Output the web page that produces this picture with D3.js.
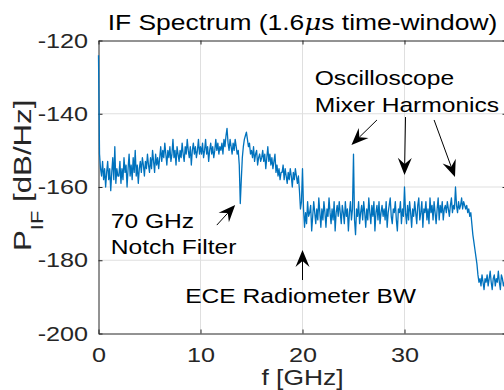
<!DOCTYPE html>
<html>
<head>
<meta charset="utf-8">
<script src="https://cdn.jsdelivr.net/npm/d3@7"></script>
<style>
  body { margin: 0; background: #fff; }
  svg { display: block; }
</style>
</head>
<body>
<div id="chart"></div>
<script>
// spectrum samples, one every 0.1 GHz from 0 to 40 GHz
var fStartGHz = 0, fStepGHz = 0.1;
var powerDb = [
  -124,-151,-155,-157,-153,-158,-155,-160,-156,-153,-158,-155,-161,-156,-152,-158,-149,-159,-155,-157,
  -157,-153,-159,-155,-158,-152,-156,-154,-160,-155,-151,-157,-154,-158,-152,-156,-150,-157,-154,-159,
  -155,-153,-156,-152,-154,-157,-153,-155,-151,-154,-156,-152,-155,-150,-153,-156,-151,-154,-152,-155,
  -152,-149,-153,-150,-152,-148,-151,-154,-150,-152,-149,-153,-151,-147,-152,-150,-154,-149,-151,-153,
  -150,-152,-148,-151,-153,-149,-151,-147,-150,-152,-149,-154,-150,-148,-151,-149,-152,-150,-147,-151,
  -149,-151,-148,-152,-150,-147,-151,-149,-153,-150,-148,-151,-149,-152,-150,-147,-150,-148,-151,-149,
  -150,-148,-151,-147,-149,-146,-144,-148,-150,-147,-149,-151,-148,-150,-147,-149,-151,-150,-154,-164.5,
  -158,-152,-149,-147,-146,-145,-147,-149,-148,-151,-150,-152,-149,-153,-151,-150,-154,-152,-151,-153,
  -152,-150,-153,-151,-155,-152,-149,-153,-151,-154,-152,-155,-153,-151,-156,-154,-157,-155,-158,-156,
  -156,-154,-158,-155,-157,-159,-156,-158,-155,-157,-160,-156,-158,-155,-157,-159,-157,-161,-166,-164,
  -155,-166,-171,-167,-170,-164,-168,-167,-165,-172,-168,-164,-167,-170,-166,-169,-163,-167,-171,-166,
  -169,-164,-167,-171,-166,-168,-163,-167,-170,-166,-169,-164,-172,-167,-165,-168,-164,-167,-170,-165,
  -167,-170,-164,-168,-166,-172,-167,-164,-169,-166,-151,-169,-173,-166,-168,-164,-170,-167,-165,-169,
  -164,-167,-171,-166,-169,-163,-167,-170,-165,-168,-164,-172,-167,-165,-169,-164,-170,-167,-165,-168,
  -166,-169,-164,-171,-167,-165,-163,-168,-170,-166,-167,-164,-169,-172,-166,-167,-164,-170,-166,-168,
  -160,-167,-170,-165,-169,-164,-167,-171,-166,-168,-164,-167,-170,-165,-163,-169,-167,-164,-171,-166,
  -167,-164,-169,-166,-170,-163,-167,-165,-169,-164,-167,-170,-166,-163,-169,-165,-167,-164,-169,-166,
  -165,-167,-164,-166,-168,-165,-163,-167,-165,-166,-160,-165,-167,-164,-166,-165,-163,-166,-164,-165,
  -166,-165,-167,-166,-168,-167,-170,-173,-175,-177,-179,-181,-184,-186,-185,-187,-184,-186,-188,-185,
  -186,-184,-187,-185,-183,-186,-188,-185,-184,-187,-185,-186,-183,-186,-188,-184,-185,-187,-186,-184,
  -185
];

var xDomain = [0, 40];
var yDomain = [-200, -120];
var xTicks = [0, 10, 20, 30];
var yTicks = [-200, -180, -160, -140, -120];

var titleParts = ["IF Spectrum (1.6", "\u03bc", "s time-window)"];
var yLabelParts = ["P", "IF", " [dB/Hz]"];
var xLabel = "f [GHz]";

// annotations, anchored in data units (GHz, dB/Hz)
var noteText = ["70 GHz", "Notch Filter", "ECE Radiometer BW", "Oscilloscope", "Mixer Harmonics"];
var noteAt = [[1.2, -171.2], [1.2, -178.3], [8.5, -191.7], [21.2, -132.2], [21.2, -139.5]];
var arrowFrom = [[11.6, -170.4], [20, -185.4], [27.3, -141.7], [30.1, -140.9], [32.9, -141.7]];
var arrowTo = [[13.4, -164.9], [20, -177.2], [24.8, -148.5], [30.0, -156.7], [34.95, -157.3]];

var width = 504, height = 390,
    margin = {top: 40.5, right: -2.5, bottom: 56.5, left: 98.5},
    SX = 1.2, // reference glyphs are wide for their height
    axisColor = "#262626",
    lineColor = "#0072bd",
    font = "'Liberation Sans', Arial, Helvetica, sans-serif";

var svg = d3.select("#chart").append("svg")
    .attr("width", width)
    .attr("height", height)
    .style("font-family", font);

var x = d3.scaleLinear().domain(xDomain).range([margin.left, width - margin.right]);
var y = d3.scaleLinear().domain(yDomain).range([height - margin.bottom, margin.top]);

// grid
var grid = svg.append("g").attr("stroke", "#dfdfdf").attr("stroke-width", 1);
grid.selectAll(".gx").data(xTicks.filter(function(d) { return d > xDomain[0]; }))
    .enter().append("line")
    .attr("x1", function(d) { return x(d); })
    .attr("x2", function(d) { return x(d); })
    .attr("y1", y(yDomain[0]))
    .attr("y2", y(yDomain[1]));
grid.selectAll(".gy").data(yTicks.filter(function(d) { return d > yDomain[0] && d < yDomain[1]; }))
    .enter().append("line")
    .attr("x1", x(xDomain[0]))
    .attr("x2", x(xDomain[1]))
    .attr("y1", function(d) { return y(d); })
    .attr("y2", function(d) { return y(d); });

function styleAxis(g) {
    g.attr("font-family", font).attr("font-size", 21);
    g.selectAll("path, line").attr("stroke", axisColor).attr("stroke-width", 1);
    g.selectAll("text").attr("fill", axisColor).attr("transform", "scale(" + SX + ",1)");
}

var fmt = function(d) { return String(d); };

svg.append("g")
    .attr("transform", "translate(0," + y(yDomain[0]) + ")")
    .call(d3.axisBottom(x).tickValues(xTicks).tickSizeInner(-4).tickSizeOuter(0).tickPadding(14).tickFormat(fmt))
    .call(styleAxis);
svg.append("g")
    .attr("transform", "translate(0," + y(yDomain[1]) + ")")
    .call(d3.axisTop(x).tickValues(xTicks).tickSizeInner(-4).tickSizeOuter(0).tickFormat(""))
    .call(styleAxis);
svg.append("g")
    .attr("transform", "translate(" + x(xDomain[0]) + ",0)")
    .call(d3.axisLeft(y).tickValues(yTicks).tickSizeInner(-4).tickSizeOuter(0).tickPadding(8.7).tickFormat(fmt))
    .call(styleAxis);
svg.append("g")
    .attr("transform", "translate(" + x(xDomain[1]) + ",0)")
    .call(d3.axisRight(y).tickValues(yTicks).tickSizeInner(-4).tickSizeOuter(0).tickFormat(""))
    .call(styleAxis);

// spectrum trace
var line = d3.line()
    .x(function(d, i) { return x(fStartGHz + i * fStepGHz); })
    .y(function(d) { return y(d); });

svg.append("path")
    .datum(powerDb)
    .attr("fill", "none")
    .attr("stroke", lineColor)
    .attr("stroke-width", 1.3)
    .attr("stroke-linejoin", "round")
    .attr("d", line);

function addText(px, py, size, anchor) {
    return svg.append("text")
        .attr("transform", "translate(" + px + "," + py + ") scale(" + SX + ",1)")
        .attr("text-anchor", anchor)
        .attr("font-size", size);
}

// title
var title = addText((x(xDomain[0]) + x(xDomain[1])) / 2, 30, 22, "middle").attr("fill", "#000");
title.append("tspan").text(titleParts[0]);
title.append("tspan").attr("font-family", "'DejaVu Serif', 'Liberation Serif', serif").attr("font-style", "italic").text(titleParts[1]);
title.append("tspan").text(titleParts[2]);

// axis labels
addText((x(xDomain[0]) + x(xDomain[1])) / 2, 385, 22, "middle").attr("fill", axisColor).text(xLabel);

var yl = svg.append("text")
    .attr("transform", "translate(30.5,251) rotate(-90) scale(1.3,1)")
    .attr("text-anchor", "start")
    .attr("font-size", 24)
    .attr("fill", axisColor);
yl.append("tspan").text(yLabelParts[0]);
yl.append("tspan").attr("font-size", 17).attr("dy", 12.5).text(yLabelParts[1]);
yl.append("tspan").attr("dy", -12.5).text(yLabelParts[2]);

// annotation text
noteText.forEach(function(t, i) {
    addText(x(noteAt[i][0]), y(noteAt[i][1]), 20.5, "start").attr("fill", "#000").text(t);
});

// arrows with notched heads
var headL = 17, headW = 7, headN = 11;
var arrows = svg.append("g");
arrowFrom.forEach(function(a, i) {
    var x1 = x(a[0]), y1 = y(a[1]), x2 = x(arrowTo[i][0]), y2 = y(arrowTo[i][1]);
    var dx = x2 - x1, dy = y2 - y1, len = Math.sqrt(dx * dx + dy * dy);
    var ux = dx / len, uy = dy / len;
    var bx = x2 - ux * headL, by = y2 - uy * headL;
    var nx = x2 - ux * headN, ny = y2 - uy * headN;
    arrows.append("line")
        .attr("x1", x1).attr("y1", y1).attr("x2", nx).attr("y2", ny)
        .attr("stroke", "#000").attr("stroke-width", 1);
    arrows.append("path")
        .attr("d", "M" + x2 + "," + y2 +
            "L" + (bx - uy * headW) + "," + (by + ux * headW) +
            "L" + nx + "," + ny +
            "L" + (bx + uy * headW) + "," + (by - ux * headW) + "Z")
        .attr("fill", "#000");
});
</script>
</body>
</html>
